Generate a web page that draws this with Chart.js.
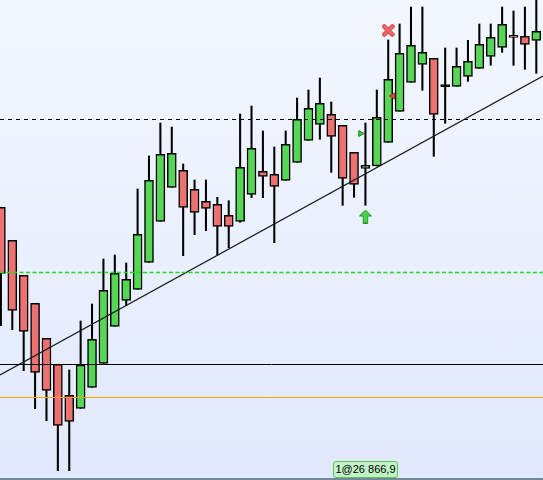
<!DOCTYPE html>
<html>
<head>
<meta charset="utf-8">
<script src="https://cdn.jsdelivr.net/npm/chart.js@4.4.1/dist/chart.umd.min.js"></script>
<style>
  html, body { margin: 0; padding: 0; background: #ffffff; }
  #wrap { position: relative; width: 543px; height: 480px; overflow: hidden;
          background: linear-gradient(to bottom, #f3f7ff 0%, #eaf0fe 50%, #e0e8fb 100%); }
  #wrap canvas { position: absolute; left: 0; top: 0; }
  #baseLine { position: absolute; left: 0; top: 478px; width: 543px; height: 2px; background: #738a96; }
  #tradeTag { position: absolute; left: 333px; top: 461px; width: 63px; height: 15px;
              border: 1px solid #5cc45c; border-radius: 3px; background: #c2f2c8;
              font: 11px "Liberation Sans", Arial, sans-serif; color: #000; line-height: 15px;
              text-align: center; white-space: nowrap; }
</style>
</head>
<body>
<div id="wrap">
  <canvas id="c" width="543" height="480"></canvas>
  <div id="baseLine"></div>
  <div id="tradeTag">1@26 866,9</div>
</div>
<script>
// ---- data (relative price units) ----
const opens  = [272.7, 239.7, 204.7, 176.7, 141.7, 115.7, 84.7, 71.7, 92.7, 116.7, 153.7, 179.7, 190.7, 217.7, 258.7, 292.7, 309.7, 290.7, 278.7, 275.7, 264.7, 258.7, 285.7, 308.7, 305.7, 299.7, 317.7, 339.7, 355.7, 365.7, 354.7, 327.7, 311.7, 314, 337.7, 368.7, 397.7, 415.7, 421.7, 393.3, 393.7, 403.7, 411.7, 423.7, 432.7, 444.7, 443.7, 439.7];
const closes = [206.7, 169.7, 148.7, 107.7, 89.7, 54.7, 58.7, 115, 140.7, 189.7, 206.7, 200.7, 245.7, 299.7, 325.7, 326.7, 272.7, 267.7, 271.7, 253.7, 253.7, 312.7, 331.7, 303.7, 293.7, 335.7, 360.7, 371.7, 376.7, 343.7, 301.7, 295.7, 314.7, 362.7, 400.7, 426.7, 434.7, 427.7, 365.7, 393.3, 413.7, 418.7, 435.7, 442.7, 455.7, 442.7, 435.7, 448.7];
const highs  = [272.7, 239.7, 204.7, 176.7, 141.7, 115.7, 110, 159, 176, 221, 225, 217, 291, 324, 357, 353, 316, 300, 300, 282.7, 279.3, 366, 374, 349, 333, 349, 382, 390, 402, 378, 354.7, 327.7, 357, 390, 440, 456, 473, 473, 421.7, 432, 432, 439.7, 456, 456, 473, 469, 473, 482];
const lows   = [154.3, 150.3, 109.3, 71.3, 59.3, 9.3, 9.3, 71.7, 92.7, 116.7, 153.7, 174.3, 190.7, 217.7, 258.7, 292.7, 224.3, 245.3, 249.3, 225, 232.3, 257.7, 282.3, 282.3, 237.3, 299.7, 317.7, 339.7, 340.7, 307.7, 274.7, 282.7, 274.7, 314, 337.7, 368.7, 397.7, 389.7, 323.7, 356.7, 393.7, 398.7, 411.7, 414.7, 427.7, 414.7, 410.7, 406.7];
const candleIndex = opens.map((_, i) => i);

const xRange = [-0.079, 47.588];
const yRange = [0, 480];

const levelDashedBlack = 360.5;
const levelDashedGreen = 207.5;
const levelSolidBlack  = 115.5;
const levelOrange      = 82.5;
const trendY = [105, 404];

const exitMarker   = { x: 34, y: 449.5 };
const entryArrow   = { x: 32, y: 263.5 };
const entryFlag    = { x: 31.57, y: 346.5 };
const exitFlag     = { x: 34.42, y: 384 };

// ---- marker images ----
function makeX() {
  const c = document.createElement('canvas'); c.width = 13; c.height = 13;
  const g = c.getContext('2d'); g.lineCap = 'round';
  g.beginPath(); g.moveTo(2.5, 2.5); g.lineTo(10.5, 10.5); g.moveTo(10.5, 2.5); g.lineTo(2.5, 10.5);
  g.strokeStyle = '#d43c3c'; g.lineWidth = 4.5; g.stroke();
  g.strokeStyle = '#ec6a6a'; g.lineWidth = 2.5; g.stroke();
  return c;
}
function makeArrow() {
  const c = document.createElement('canvas'); c.width = 13; c.height = 14;
  const g = c.getContext('2d');
  g.beginPath();
  g.moveTo(6.5, 0.5); g.lineTo(12.5, 6.5); g.lineTo(8.7, 6.5); g.lineTo(8.7, 13.5);
  g.lineTo(4.3, 13.5); g.lineTo(4.3, 6.5); g.lineTo(0.5, 6.5); g.closePath();
  g.fillStyle = '#4cd24c'; g.fill();
  g.strokeStyle = '#1e941e'; g.lineWidth = 1; g.stroke();
  return c;
}

const bodyColor = (i) => closes[i] > opens[i] ? '#55d655' : (closes[i] < opens[i] ? '#ec7272' : '#000000');

const hLine = (v, color, width, dash) => ({
  type: 'line', order: 1,
  data: [{ x: xRange[0], y: v }, { x: xRange[1], y: v }],
  borderColor: color, borderWidth: width, borderDash: dash || [],
  pointRadius: 0, fill: false, tension: 0
});
const marker = (p, style, color, border, radius, rot) => ({
  type: 'line', order: 0, showLine: false, clip: false,
  data: [p],
  pointStyle: style, pointRadius: radius, pointRotation: rot || 0,
  pointBackgroundColor: color, pointBorderColor: border, pointBorderWidth: 1
});

new Chart(document.getElementById('c'), {
  type: 'bar',
  data: {
    datasets: [
      {
        label: 'wicks', order: 3, grouped: false,
        data: candleIndex.map(i => ({ x: i, y: [lows[i], highs[i]] })),
        backgroundColor: '#000000', borderWidth: 0, barThickness: 1.4
      },
      {
        label: 'bodies', order: 2, grouped: false,
        data: candleIndex.map(i => ({ x: i, y: [opens[i], closes[i]] })),
        backgroundColor: candleIndex.map(bodyColor),
        borderColor: '#000000', borderWidth: 1.5, borderSkipped: false,
        barThickness: 9, minBarLength: 2
      },
      hLine(levelDashedBlack, '#000000', 1, [4, 4]),
      hLine(levelDashedGreen, '#18e018', 1.6, [4, 2.5]),
      hLine(levelSolidBlack, '#000000', 1),
      hLine(levelOrange, '#ffa200', 1),
      {
        type: 'line', order: 1,
        data: [{ x: xRange[0], y: trendY[0] }, { x: xRange[1], y: trendY[1] }],
        borderColor: '#1a1a1a', borderWidth: 1.2, pointRadius: 0, fill: false
      },
      marker(exitMarker, makeX(), '#ec6a6a', '#d43c3c', 6),
      marker(entryArrow, makeArrow(), '#4cd24c', '#1e941e', 6),
      marker(entryFlag, 'triangle', '#36c836', '#1e941e', 3.5, 90),
      marker(exitFlag, 'triangle', '#e04848', '#b02828', 3.5, -90)
    ]
  },
  options: {
    responsive: false,
    animation: false,
    events: [],
    layout: { padding: 0, autoPadding: false },
    plugins: { legend: { display: false }, tooltip: { enabled: false } },
    scales: {
      x: { type: 'linear', min: xRange[0], max: xRange[1], display: false, offset: false },
      y: { type: 'linear', min: yRange[0], max: yRange[1], display: false }
    }
  }
});
</script>
</body>
</html>
